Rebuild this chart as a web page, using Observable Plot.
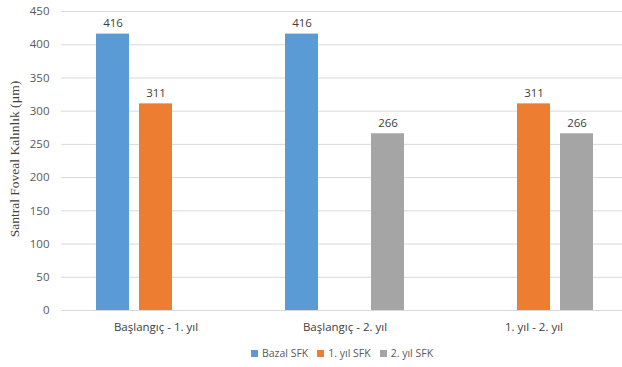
<!DOCTYPE html>
<html>
<head>
<meta charset="utf-8">
<script src="https://cdn.jsdelivr.net/npm/d3@7"></script>
<script src="https://cdn.jsdelivr.net/npm/@observablehq/plot@0.6"></script>
<style>
  html, body { margin: 0; padding: 0; background: #fff; }
  #chart { width: 622px; position: relative; }
  .legend { display: flex; justify-content: center; gap: 9px; font-family: "Open Sans", sans-serif; font-size: 10.5px; color: #595959; height: 25px; align-items: center; padding-left: 62px; box-sizing: border-box; width: 622px; margin-top: -2px; }
  .legend span.sw { display: inline-block; width: 7px; height: 7px; margin-right: 4px; vertical-align: middle; }
  .ytitle { position: absolute; left: 15px; top: 159px; transform: translate(-50%, -50%) rotate(-90deg); font-family: "Liberation Serif", serif; font-size: 13.5px; color: #404040; white-space: nowrap; }
</style>
</head>
<body>
<div id="chart"></div>
<script>
const groups = ["Başlangıç - 1. yıl", "Başlangıç - 2. yıl", "1. yıl - 2. yıl"];
const series = ["Bazal SFK", "1. yıl SFK", "2. yıl SFK"];
const colors = ["#5B9BD5", "#ED7D31", "#A5A5A5"];
// values per group, per series (null = no bar)
const bazal = [416, 416, null];
const yil1 = [311, null, 311];
const yil2 = [null, 266, 266];
const yTicks = [0, 50, 100, 150, 200, 250, 300, 350, 400, 450];

const data = [];
groups.forEach((g, i) => {
  [bazal, yil1, yil2].forEach((arr, j) => {
    if (arr[i] != null) data.push({group: g, series: series[j], value: arr[i]});
  });
});

const font = '"Open Sans", sans-serif';
const plot = Plot.plot({
  width: 622,
  height: 342,
  marginLeft: 61,
  marginRight: 0,
  marginTop: 11,
  marginBottom: 32,
  style: {fontFamily: font, fontSize: "11.5px", color: "#595959", background: "#fff", overflow: "visible"},
  fx: {domain: groups, padding: 0, range: [61, 628], label: null, axis: null},
  x: {domain: series, paddingInner: 0.233, paddingOuter: 0.79, axis: null},
  y: {domain: [0, 450], ticks: yTicks, label: null, axis: null},
  color: {domain: series, range: colors},
  marks: [
    Plot.ruleY(yTicks, {stroke: "#D9D9D9", strokeWidth: 1, strokeOpacity: 1}),
    Plot.axisY({ticks: yTicks, tickSize: 0, tickPadding: 12, label: null, fontSize: 11.5}),
    Plot.barY(data, {fx: "group", x: "series", y: "value", fill: "series"}),
    Plot.text(data, {fx: "group", x: "series", y: "value", text: d => String(d.value), lineAnchor: "bottom", dy: -7, fill: "#404040", fontSize: 11.5}),
    Plot.axisFx({anchor: "bottom", tickSize: 0, tickPadding: 12, label: null, fontSize: 11.5, fill: "#404040"})
  ]
});
const chart = document.getElementById("chart");
chart.appendChild(plot);
const t = document.createElement("div");
t.className = "ytitle";
t.textContent = "Santral Foveal Kalınlık (µm)";
chart.appendChild(t);
const legend = document.createElement("div");
legend.className = "legend";
series.forEach((s, i) => {
  const item = document.createElement("div");
  item.innerHTML = `<span class="sw" style="background:${colors[i]}"></span>${s}`;
  legend.appendChild(item);
});
document.body.appendChild(legend);
</script>
</body>
</html>
